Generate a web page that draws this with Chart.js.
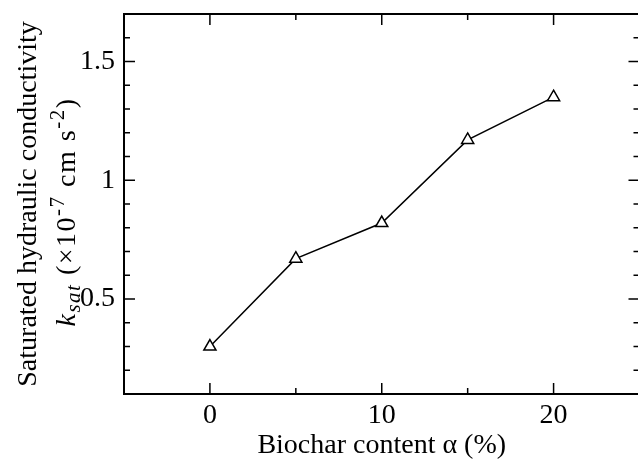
<!DOCTYPE html>
<html>
<head>
<meta charset="utf-8">
<script src="https://cdn.jsdelivr.net/npm/chart.js@4.4.1/dist/chart.umd.min.js"></script>
<style>
    html, body { margin: 0; padding: 0; background: #fff; overflow: hidden; }
    #wrap { width: 638px; height: 461px; overflow: hidden; position: relative; }
    #box { width: 648px; height: 461px; position: absolute; left: 0; top: 0; }
</style>
</head>
<body>
<div id="wrap"><div id="box"><canvas id="ksatChart"></canvas></div></div>
<script>
// Data
const biocharContent = [0, 5, 10, 15, 20];
const ksatValues = [0.30, 0.67, 0.82, 1.17, 1.35];

// Axis ticks
const xMajorTicks = [0, 10, 20];
const xMinorTicks = [-5, 5, 15, 25];
const yMajorTicks = [0.5, 1, 1.5];
const yMinorTicks = [0.1, 0.2, 0.3, 0.4, 0.6, 0.7, 0.8, 0.9, 1.1, 1.2, 1.3, 1.4, 1.6, 1.7];

const serif = '"Liberation Serif", "Times New Roman", serif';
const fontSize = 28;

/**
 * Frame with inward ticks on all four sides
 */
const framePlugin = {
    id: 'frame',
    afterDatasetsDraw(chart) {
        const { ctx, chartArea: a, scales: { x, y } } = chart;
        ctx.save();
        ctx.strokeStyle = '#000';
        ctx.lineWidth = 1.5;
        ctx.beginPath();
        const xtick = (vals, len) => {
            vals.forEach(v => {
                const px = x.getPixelForValue(v);
                ctx.moveTo(px, a.bottom); ctx.lineTo(px, a.bottom - len);
                ctx.moveTo(px, a.top); ctx.lineTo(px, a.top + len);
            });
        };
        const ytick = (vals, len) => {
            vals.forEach(v => {
                const py = y.getPixelForValue(v);
                ctx.moveTo(a.left, py); ctx.lineTo(a.left + len, py);
                ctx.moveTo(a.right, py); ctx.lineTo(a.right - len, py);
            });
        };
        xtick(xMajorTicks, 11);
        xtick(xMinorTicks, 6);
        ytick(yMajorTicks, 11);
        ytick(yMinorTicks, 6);
        ctx.stroke();

        ctx.lineWidth = 2;
        ctx.strokeRect(a.left, a.top, a.right - a.left, a.bottom - a.top);
        ctx.restore();
    }
};

/**
 * Two-line y axis title with italic subscript and superscripts
 */
const yTitlePlugin = {
    id: 'yTitle',
    afterDraw(chart) {
        const { ctx, chartArea: a } = chart;
        const cy = (a.top + a.bottom) / 2;
        const subSize = Math.round(fontSize * 0.75);
        const normal = fontSize + 'px ' + serif;
        const italic = 'italic ' + fontSize + 'px ' + serif;
        const small = subSize + 'px ' + serif;
        const smallItalic = 'italic ' + subSize + 'px ' + serif;

        ctx.save();
        ctx.fillStyle = '#000';

        // line 1
        ctx.save();
        ctx.translate(36, cy);
        ctx.rotate(-Math.PI / 2);
        ctx.font = normal;
        ctx.textAlign = 'center';
        ctx.textBaseline = 'alphabetic';
        ctx.fillText('Saturated hydraulic conductivity', 0, 0);
        ctx.restore();

        // line 2, built from pieces
        const parts = [
            { t: 'k', f: italic, dy: 0 },
            { t: 'sat', f: smallItalic, dy: 5 },
            { t: ' (×10', f: normal, dy: 0 },
            { t: '-7', f: small, dy: -11 },
            { t: ' cm s', f: normal, dy: 0 },
            { t: '-2', f: small, dy: -11 },
            { t: ')', f: normal, dy: 0 }
        ];
        ctx.save();
        ctx.letterSpacing = '1.5px';
        let total = 0;
        parts.forEach(p => { ctx.font = p.f; p.w = ctx.measureText(p.t).width; total += p.w; });
        ctx.translate(75, cy + 8);
        ctx.rotate(-Math.PI / 2);
        ctx.textAlign = 'left';
        ctx.textBaseline = 'alphabetic';
        let px = -total / 2;
        parts.forEach(p => {
            ctx.font = p.f;
            ctx.fillText(p.t, px, p.dy);
            px += p.w;
        });
        ctx.restore();
        ctx.restore();
    }
};

const points = biocharContent.map((v, i) => ({ x: v, y: ksatValues[i] }));

// Drop the label overhang padding so the layout padding alone places the plot area
const noOverhang = (scale) => {
    scale.paddingTop = 0;
    scale.paddingBottom = 0;
    scale.paddingLeft = 0;
    scale.paddingRight = 0;
};

new Chart(document.getElementById('ksatChart'), {
    type: 'scatter',
    data: {
        datasets: [{
            data: points,
            showLine: true,
            borderColor: '#000',
            borderWidth: 1.5,
            pointStyle: 'triangle',
            pointRadius: 7,
            pointBackgroundColor: '#fff',
            pointBorderColor: '#000',
            pointBorderWidth: 1.5
        }]
    },
    options: {
        responsive: true,
        maintainAspectRatio: false,
        animation: false,
        events: [],
        layout: {
            padding: { top: 14, right: 5.5, bottom: 0, left: 0 }
        },
        plugins: {
            legend: { display: false },
            tooltip: { enabled: false }
        },
        scales: {
            x: {
                type: 'linear',
                min: -5,
                max: 25,
                grid: { display: false, drawTicks: false },
                border: { display: false },
                afterFit(scale) { scale.height = 67; noOverhang(scale); },
                afterBuildTicks(scale) {
                    scale.ticks = xMajorTicks.map(v => ({ value: v }));
                },
                ticks: {
                    autoSkip: false,
                    maxRotation: 0,
                    padding: 8,
                    color: '#000',
                    font: { family: serif, size: fontSize, lineHeight: 1 },
                    callback: v => String(v)
                },
                title: {
                    display: true,
                    text: 'Biochar content α (%)',
                    color: '#000',
                    padding: { top: 0, bottom: 1 },
                    font: { family: serif, size: fontSize, lineHeight: 1 }
                }
            },
            y: {
                type: 'linear',
                min: 0.1,
                max: 1.7,
                grid: { display: false, drawTicks: false },
                border: { display: false },
                afterFit(scale) { scale.width = 124; noOverhang(scale); },
                afterBuildTicks(scale) {
                    scale.ticks = yMajorTicks.map(v => ({ value: v }));
                },
                ticks: {
                    autoSkip: false,
                    padding: 9,
                    color: '#000',
                    font: { family: serif, size: fontSize, lineHeight: 1 },
                    callback: v => String(v)
                }
            }
        }
    },
    plugins: [framePlugin, yTitlePlugin]
});
</script>
</body>
</html>
